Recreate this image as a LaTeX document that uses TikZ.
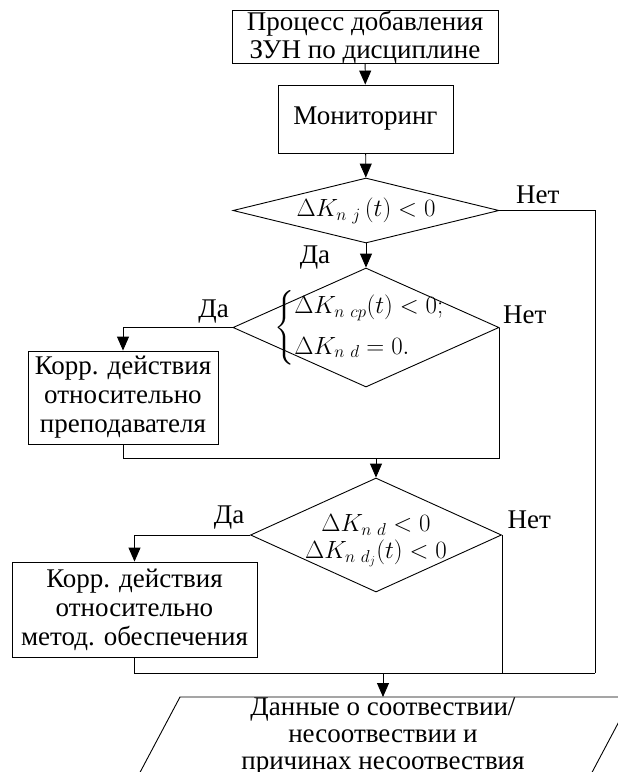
\documentclass[tikz,border=0pt]{standalone}
\usepackage{amsmath}
\usepackage{fontspec}
\setmainfont{Liberation Serif}
\usetikzlibrary{arrows.meta,shapes.geometric}

\begin{document}
\begin{tikzpicture}[x=1pt, y=-1pt,
    every node/.style={font=\fontsize{27}{29}\selectfont},
    line/.style={draw, line width=0.9pt},
    arr/.style={line, -{Triangle[length=14pt,width=12pt]}},
    block/.style={rectangle, draw, line width=0.9pt, align=center, inner sep=0pt},
    decision/.style={diamond, draw, line width=0.9pt, inner sep=0pt},
    formula/.style={font=\fontsize{23}{27}\selectfont},
  ]
  \useasboundingbox (0,0) rectangle (618,772);
  \clip (0,0) rectangle (618,772);

  % blocks
  \node[block, minimum width=266, minimum height=48,
        font=\fontsize{27}{28}\selectfont] (start) at (365,37)
        {Процесс добавления\\ЗУН по дисциплине};
  \node[block, minimum width=175, minimum height=68] (mon) at (365.5,119) {Мониторинг};
  \node[decision, minimum width=266, minimum height=65,
        label={[formula]center:{$\Delta K_{n\ j}\left(t\right)<0$}}] (d1) at (366,210.5) {};
  \node[decision, minimum width=266, minimum height=119,
        label={[formula, xshift=5pt]center:{$\begin{cases}\Delta K_{n\ cp}(t)<0;\\[8pt] \Delta K_{n\ d}=0.\end{cases}$}}]
        (d2) at (366,327.5) {};
  \node[block, minimum width=190, minimum height=93] (kp) at (123,397.5)
        {Корр. действия\\относительно\\преподавателя};
  \node[decision, minimum width=251, minimum height=114,
        label={[formula, yshift=-5pt]center:{$\begin{array}{c}\Delta K_{n\ d}<0\\ \Delta K_{n\ d_j}(t)<0\end{array}$}}]
        (d3) at (376,535) {};
  \node[block, minimum width=245, minimum height=95] (km) at (134.5,609.5)
        {Корр. действия\\относительно\\метод. обеспечения};
  \node[align=center, inner sep=0pt, font=\fontsize{27}{27}\selectfont] (out) at (383,736)
        {Данные о соотвествии/\\несоотвествии и\\причинах несоотвествия};

  % output parallelogram
  \coordinate (pTL) at (180,697);
  \coordinate (pTR) at (632,697);
  \coordinate (pBR) at (580,795);
  \coordinate (pBL) at (128,795);
  \draw[line] (pTL) -- (pTR) -- (pBR) -- (pBL) -- cycle;

  % joints
  \coordinate (c1) at (595,210.5);
  \coordinate (rb) at (595,673);
  \coordinate (m1) at (376,458);
  \coordinate (m2) at (383,673);

  % connectors
  \draw[arr] (start) -- (mon);
  \draw[arr] (mon) -- (d1);
  \draw[arr] (d1) -- node[pos=0.6, left=32pt] (yes1) {Да} (d2);
  \draw[line] (d1.east) -- node[pos=0.4, above=3pt] (no1) {Нет} (c1) -- (rb);
  \draw[arr] (d2.west) node[above left=0pt] (yes2) {Да} -| (kp.north);
  \draw[line] (d2.east) node[above right=0pt] (no2) {Нет}
        -- (d2.east |- m1) -- (kp.south |- m1) -- (kp.south);
  \draw[arr] (m1) -- (d3.north);
  \draw[arr] (d3.west) node[above left=2pt] (yes3) {Да} -| (km.north);
  \draw[line] (d3.east) node[above right=2pt] (no3) {Нет} -- (d3.east |- rb);
  \draw[line] (km.south) |- (rb);
  \draw[arr] (m2) -- (m2 |- pTL);
\end{tikzpicture}
\end{document}
